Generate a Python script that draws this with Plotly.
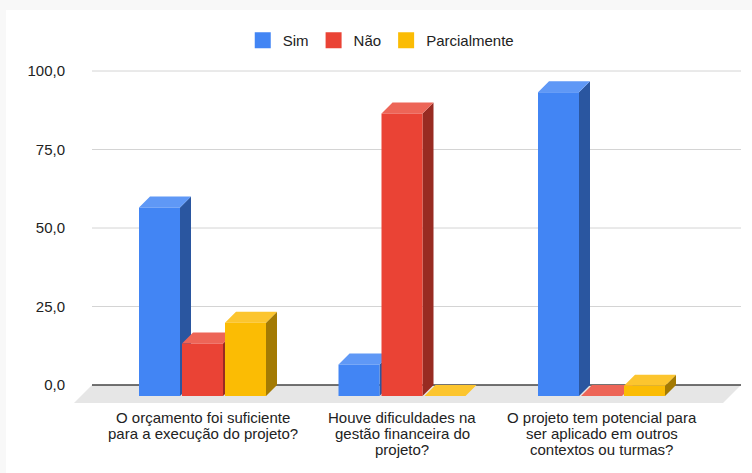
import plotly.graph_objects as go

categories = [
    ["O orçamento foi suficiente", "para a execução do projeto?"],
    ["Houve dificuldades na", "gestão financeira do", "projeto?"],
    ["O projeto tem potencial para", "ser aplicado em outros", "contextos ou turmas?"],
]
series_names = ["Sim", "Não", "Parcialmente"]
sim_values = [60.0, 10.0, 96.7]
nao_values = [16.7, 90.0, 0.0]
parcial_values = [23.3, 0.0, 3.3]
y_ticks = [0, 25, 50, 75, 100]

front_colors = ["#4285f4", "#ea4335", "#fbbc04"]
top_colors = ["#5f98f6", "#ed6557", "#fcc52e"]
side_colors = ["#2a56a0", "#982b22", "#a37a03"]

FONT = "Liberation Sans, Arial, sans-serif"
FONT_SIZE = 15
WIDTH, HEIGHT = 752, 473
ZERO_Y, HUNDRED_Y = 385, 71
GRID_LEFT, RIGHT = 92, 741

PX_X = 199.5  # pixels per category
PX_Y = (ZERO_Y - HUNDRED_Y) / 100
BAR_W = 41 / PX_X
BAR_STEP = 43 / PX_X
DEPTH_X = 11 / PX_X
DEPTH_Y = 11 / PX_Y
FLOOR_PX = 18
FLOOR_X = FLOOR_PX / PX_X
FLOOR_Y = FLOOR_PX / PX_Y

# plot area holds the floor too, zorder layers stay clipped to it
LEFT = GRID_LEFT - FLOOR_PX
TOP = HUNDRED_Y - 2
BOTTOM = ZERO_Y + FLOOR_PX
X_MIN = (LEFT - 202.5) / PX_X
X_MAX = (RIGHT - 202.5) / PX_X
GRID_X = (GRID_LEFT - 202.5) / PX_X
Y_MAX = (ZERO_Y - TOP) / PX_Y

fig = go.Figure()

fig.add_trace(go.Scatter(
    x=[GRID_X, X_MAX, X_MAX - FLOOR_X, GRID_X - FLOOR_X, GRID_X],
    y=[0, 0, -FLOOR_Y, -FLOOR_Y, 0],
    mode="lines", line_width=0, fill="toself", fillcolor="#e6e6e6",
    hoverinfo="skip", showlegend=False, zorder=0))

# gridlines start behind the floor corner, so they are not the axis grid
grid_x, grid_y = [], []
for tick in y_ticks[1:]:
    grid_x += [GRID_X, X_MAX, None]
    grid_y += [tick, tick, None]
fig.add_trace(go.Scatter(
    x=grid_x, y=grid_y, mode="lines", line=dict(color="#d4d4d4", width=1),
    hoverinfo="skip", showlegend=False, zorder=0))
fig.add_trace(go.Scatter(
    x=[GRID_X, X_MAX], y=[0, 0], mode="lines", line=dict(color="#444444", width=1.3),
    hoverinfo="skip", showlegend=False, zorder=1))

all_values = [sim_values, nao_values, parcial_values]

for index, values in enumerate(all_values):
    lefts = [group + (index - 1) * BAR_STEP - BAR_W / 2 for group in range(len(values))]
    side_x, side_y, top_x, top_y = [], [], [], []

    for left, value in zip(lefts, values):
        right = left + BAR_W
        front_top = value - DEPTH_Y
        top_x += [left, right, right + DEPTH_X, left + DEPTH_X, left, None]
        top_y += [front_top, front_top, value, value, front_top, None]
        side_x += [right, right + DEPTH_X, right + DEPTH_X, right, right, None]
        side_y += [-DEPTH_Y, 0, value, front_top, -DEPTH_Y, None]

    fig.add_trace(go.Scatter(
        x=side_x, y=side_y, mode="lines", line_width=0, fill="toself",
        fillcolor=side_colors[index], hoverinfo="skip",
        showlegend=False, zorder=2 + 2 * index))
    fig.add_trace(go.Scatter(
        x=top_x, y=top_y, mode="lines", line_width=0, fill="toself",
        fillcolor=top_colors[index], hoverinfo="skip",
        showlegend=False, zorder=2 + 2 * index))
    fig.add_trace(go.Bar(
        x=[left + BAR_W / 2 for left in lefts], y=values, base=-DEPTH_Y,
        width=BAR_W, name=series_names[index], marker_color=front_colors[index],
        marker_line_width=0, showlegend=False, zorder=3 + 2 * index))
    # legend swatch only
    fig.add_trace(go.Scatter(
        x=[None], y=[None], mode="markers", name=series_names[index],
        marker=dict(symbol="square", size=16, color=front_colors[index])))

# tick labels are one text per line, the axis cannot tighten its line height
for group, lines in enumerate(categories):
    for line_index, line in enumerate(lines):
        fig.add_annotation(
            x=group, y=0, xref="x", yref="y", text=line, showarrow=False,
            yanchor="middle", yshift=-32 - 16 * line_index,
            font=dict(family=FONT, size=FONT_SIZE, color="#222222"))

fig.add_shape(
    type="rect", xref="paper", yref="paper", layer="below", line_width=0, fillcolor="#ffffff",
    x0=(6 - LEFT) / (RIGHT - LEFT), x1=(WIDTH - LEFT) / (RIGHT - LEFT),
    y0=(BOTTOM - HEIGHT) / (BOTTOM - TOP), y1=(BOTTOM - 10) / (BOTTOM - TOP))

fig.update_layout(
    width=WIDTH, height=HEIGHT, autosize=False,
    margin=dict(l=LEFT, r=WIDTH - RIGHT, t=TOP, b=HEIGHT - BOTTOM),
    paper_bgcolor="#f8f8f8", plot_bgcolor="rgba(0,0,0,0)",
    barmode="overlay", separators=",.",
    font=dict(family=FONT, size=FONT_SIZE, color="#222222"),
    legend=dict(orientation="h", x=0.253, xanchor="left", y=1.085, yanchor="middle",
                bgcolor="rgba(0,0,0,0)", font=dict(family=FONT, size=FONT_SIZE, color="#222222")))
fig.update_xaxes(range=[X_MIN, X_MAX], showgrid=False, zeroline=False, showticklabels=False, showline=False)
fig.update_yaxes(
    range=[-FLOOR_Y, Y_MAX], tickvals=y_ticks, tickformat=".1f", showgrid=False,
    zeroline=False, showline=False, ticklabelstandoff=8)

fig.write_html("out.html", config={"displayModeBar": False}, post_script="document.body.style.margin='0';")
